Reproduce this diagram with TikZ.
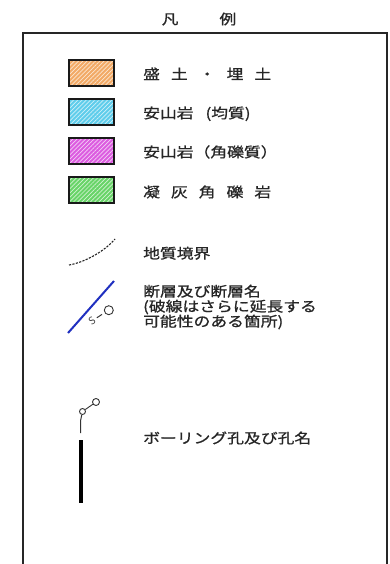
\documentclass[tikz,border=0pt]{standalone}
\usepackage{fontspec}
\newfontfamily\jp[FakeStretch=1.2,FakeBold=0.9]{Noto Sans CJK JP}
\usetikzlibrary{patterns.meta}
\definecolor{orbase}{HTML}{F2AA66}
\definecolor{cybase}{HTML}{5FCDEB}
\definecolor{mabase}{HTML}{DC5CE0}
\definecolor{grbase}{HTML}{68D468}
\definecolor{faultblue}{HTML}{2030C0}
\begin{document}
\begin{tikzpicture}[x=1pt,y=-1pt,
  lbl/.style={anchor=base west,inner sep=0pt,font=\jp\fontsize{14}{15}\selectfont,text=black!85},
  swatch/.style={draw=black!90,line width=1.5pt,minimum width=45pt,minimum height=26pt,inner sep=0pt,
     pattern={Lines[angle=45,distance=3pt,line width=0.7pt]}},
  hole/.style={circle,draw=black!80,line width=0.9pt,minimum size=#1,inner sep=0pt}
]
\useasboundingbox (0,0) rectangle (390,564);
\fill[white] (0,0) rectangle (390,564);
% frame
\draw[line width=1.8pt,draw=black!85] (23,570) -- (23,33) -- (387,33) -- (387,570);
% title
\node[lbl,anchor=base] (title) at (199,24.3) {凡\hspace{41pt}例};
% swatches
\node[swatch,preaction={fill=orbase},pattern color=white!70!orbase] (s1) at (91.5,73) {};
\node[swatch,preaction={fill=cybase},pattern color=white!70!cybase] (s2) at (91.5,112) {};
\node[swatch,preaction={fill=mabase},pattern color=white!70!mabase] (s3) at (91.5,151) {};
\node[swatch,preaction={fill=grbase},pattern color=white!70!grbase] (s4) at (91.5,190) {};
\node[lbl] (l1) at (143,79.3) {盛\hspace{11pt}土\hspace{11pt}・\hspace{11pt}埋\hspace{11pt}土};
\node[lbl] (l2) at (143,118.3) {安山岩\hspace{12pt}(均質)};
\node[lbl] (l3) at (143,157.3) {安山岩（角礫質）};
\node[lbl] (l4) at (143,197.3) {凝\hspace{11pt}灰\hspace{11pt}角\hspace{11pt}礫\hspace{11pt}岩};
% geological boundary
\coordinate (b1) at (69,265);
\coordinate (b2) at (115,239);
\draw[line width=1.1pt,dash pattern=on 2.2pt off 1.3pt,black!85] (b1) .. controls (82,263) and (103,253) .. (b2);
\node[lbl] (l5) at (143,258.5) {地質境界};
% fault
\coordinate (f1) at (68,333);
\coordinate (f2) at (114,281);
\draw[line width=2pt,faultblue] (f1) -- (f2);
\node[inner sep=0pt,rotate=33,font=\sffamily\fontsize{10.5}{10}\selectfont,text=black!80] (fs) at (92,321) {S};
\coordinate (fd1) at (96.8,317.8);
\coordinate (fd2) at (102,314.4);
\draw[line width=1pt,black!80] (fd1) -- (fd2);
\node[hole=9pt] (fc) at (108.8,310.2) {};
\node[lbl,anchor=west,align=left,font=\jp\fontsize{14}{15}\selectfont] (l6) at (143,307) {断層及び断層名\\(破線はさらに延長する\\可能性のある箇所)};
% boring
\node[hole=6pt] (bc1) at (82.5,411.5) {};
\node[hole=7pt] (bc2) at (96,402) {};
\draw[line width=0.9pt,black!80] (bc1) -- (bc2);
\coordinate (bt1) at (80.7,433);
\coordinate (bt2) at (80.7,420);
\draw[line width=1pt,black!80] (bt1) -- (bt2) -- (bc1);
\coordinate (bk1) at (80.7,440);
\coordinate (bk2) at (80.7,503);
\draw[line width=3.8pt,black] (bk1) -- (bk2);
\node[lbl] (l7) at (143,443.3) {ボーリング孔及び孔名};
\end{tikzpicture}
\end{document}
